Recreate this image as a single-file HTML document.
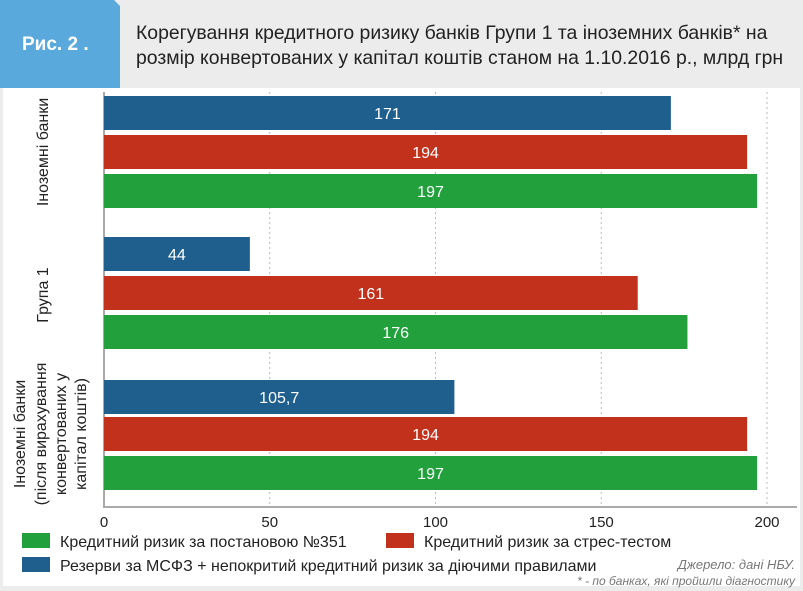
<!DOCTYPE html>
<html><head><meta charset="utf-8"><style>
body{margin:0;width:803px;height:591px;background:#ececec;font-family:"Liberation Sans","DejaVu Sans",sans-serif;overflow:hidden;position:relative}
.abs{position:absolute}
</style></head><body>
<div class="abs" style="left:0;top:0;width:120px;height:88px;background:#5aa9dc;clip-path:polygon(0 0,114px 0,120px 6px,120px 36px,127px 44px,120px 52px,120px 88px,0 88px)"></div>
<div class="abs" style="left:22px;top:34px;color:#fff;font-weight:bold;font-size:19px">Рис. 2 .</div>
<div class="abs" style="left:136px;top:21px;font-size:19.4px;line-height:25px;color:#222">Корегування кредитного ризику банків Групи 1 та іноземних банків* на<br>розмір конвертованих у капітал коштів станом на 1.10.2016 р., млрд грн</div>
<div class="abs" style="left:3px;top:88px;width:797px;height:498px;background:#fff"></div>
<svg class="abs" style="left:0;top:0" width="803" height="591">
<g id="g"></g>
</svg>
<div class="abs" style="right:8px;top:557px;font-size:13px;font-style:italic;color:#777;text-align:right;line-height:16px">Джерело: дані НБУ.<br><span style="font-size:12px">* - по банках, які пройшли діагностику</span></div>
<script>
const categories=["Іноземні банки","Група 1","Іноземні банки (після вирахування конвертованих у капітал коштів)"];
const reserves=[171,44,105.7];
const stress=[194,161,194];
const resolution=[197,176,197];
const reserveLabels=["171","44","105,7"];
const stressLabels=["194","161","194"];
const resolutionLabels=["197","176","197"];
const ticks=[0,50,100,150,200];
const x0=104,x1=767,vmax=200;
const X=v=>x0+(x1-x0)*v/vmax;
const groupTop=[96,237,380],step=39,bh=34;
const g=document.getElementById('g');const NS="http://www.w3.org/2000/svg";
function el(t,a){const e=document.createElementNS(NS,t);for(const k in a)e.setAttribute(k,a[k]);g.appendChild(e);return e;}
ticks.forEach((t,i)=>{
 if(t>0){const l=el('line',{x1:X(t),x2:X(t),y1:92,y2:507,stroke:'#bbb','stroke-dasharray':'2,3'});
 
 }
 const tx=el('text',{x:X(t),y:527,'text-anchor':'middle','font-size':15,fill:'#222'});tx.textContent=t;
 
 
});
const ax=el('polyline',{points:`${x0},92 ${x0},507 ${X(200)+30},507`,fill:'none',stroke:'#aaa','stroke-width':2});


const series=[[reserves,reserveLabels,'#1f5f8e','reserves'],[stress,stressLabels,'#c1311b','stress'],[resolution,resolutionLabels,'#22a03c','resolution']];
categories.forEach((c,ci)=>{
 series.forEach((s,si)=>{
  const y=groupTop[ci]+si*step+(ci===2&&si>0?-2:0);
  const r=el('rect',{x:x0,y:y,width:X(s[0][ci])-x0,height:bh,fill:s[2]});
  
  
  const t=el('text',{x:(x0+X(s[0][ci]))/2,y:y+bh/2+6,'text-anchor':'middle','font-size':16,fill:'#fff'});t.textContent=s[1][ci];
  
  
 });
});
const labs=[[[48,"Іноземні банки"]],[[48,"Група 1"]],[[25,"Іноземні банки"],[46,"(після вирахування"],[66,"конвертованих у"],[86,"капітал коштів)"]]];
const cy=[152,295,434];
labs.forEach((ls,i)=>ls.forEach(([x,s])=>{
 const t=el('text',{x:0,y:0,'text-anchor':'middle','font-size':16,fill:'#222',transform:`translate(${x},${cy[i]}) rotate(-90)`});t.textContent=s;
 
 
}));
const leg=[[22,531,'#22a03c','Кредитний ризик за постановою №351'],[386,531,'#c1311b','Кредитний ризик за стрес-тестом'],[22,555,'#1f5f8e','Резерви за МСФЗ + непокритий кредитний ризик за діючими правилами']];
leg.forEach(([x,y,c,s])=>{
 const r=el('rect',{x:x,y:y+2,width:28,height:15,fill:c});
 
 
 const t=el('text',{x:x+38,y:y+16,'font-size':16,fill:'#222'});t.textContent=s;
 
 
});
</script>
</body></html>
